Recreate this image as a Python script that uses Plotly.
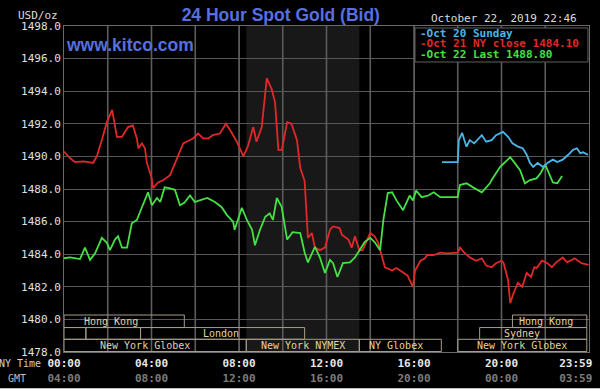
import plotly.graph_objects as go

# ---------------- data ----------------
oct21_hours = [0.0, 0.27, 0.5, 0.9, 1.33, 1.5, 1.73, 1.96, 2.2, 2.33, 2.42, 2.65, 2.93, 3.15, 3.33, 3.4,
               3.56, 3.7, 3.79, 4.0, 4.07, 4.3, 4.55, 4.85, 5.15, 5.45, 5.6, 5.9, 6.13, 6.36, 6.6, 6.8,
               7.13, 7.4, 7.6, 7.9, 8.2, 8.4, 8.65, 8.8, 9.04, 9.27, 9.5, 9.65, 9.8, 9.96, 10.2, 10.4,
               10.65, 10.8, 11.0, 11.1, 11.15, 11.33, 11.47, 11.7, 11.93, 12.16, 12.3, 12.6, 12.7, 13.0,
               13.15, 13.3, 13.5, 13.65, 14.0, 14.2, 14.35, 14.67, 15.0, 15.2, 15.5, 15.7, 15.95, 16.05,
               16.3, 16.5, 16.6, 16.9, 17.2, 17.5, 18.0, 18.1, 18.3, 18.55, 18.85, 19.1, 19.3, 19.55,
               19.75, 20.0, 20.1, 20.3, 20.4, 20.55, 20.75, 20.95, 21.15, 21.35, 21.5, 21.6, 21.85, 22.1,
               22.3, 22.5, 22.8, 23.0, 23.35, 23.65, 23.98]
oct21_values = [1490.3, 1489.9, 1489.65, 1489.7, 1489.6, 1490.0, 1491.0, 1492.1, 1492.85, 1491.8, 1491.2,
                1491.2, 1491.8, 1491.9, 1491.1, 1490.5, 1490.8, 1490.5, 1489.6, 1488.7, 1488.05, 1488.4,
                1488.55, 1488.85, 1489.8, 1490.8, 1490.9, 1491.1, 1491.4, 1491.1, 1491.1, 1491.3, 1491.4,
                1492.0, 1491.6, 1490.9, 1490.0, 1490.6, 1491.8, 1490.9, 1491.8, 1494.8, 1494.1, 1493.3,
                1490.4, 1490.4, 1492.1, 1492.0, 1491.0, 1489.3, 1488.5, 1486.5, 1485.0, 1485.3, 1484.4,
                1484.25, 1484.4, 1485.5, 1485.7, 1485.6, 1485.2, 1484.9, 1484.4, 1485.1, 1484.25, 1484.25,
                1485.3, 1485.1, 1484.75, 1483.2, 1483.0, 1483.15, 1482.85, 1482.7, 1482.0, 1483.0, 1483.6,
                1483.75, 1483.95, 1483.95, 1484.1, 1484.05, 1484.1, 1484.4, 1484.1, 1483.8, 1483.6, 1483.75,
                1483.3, 1483.2, 1483.45, 1483.6, 1483.45, 1482.4, 1481.0, 1481.6, 1482.25, 1482.0, 1482.85,
                1482.6, 1483.2, 1483.15, 1483.6, 1483.45, 1483.2, 1483.5, 1483.8, 1483.5, 1483.75, 1483.45,
                1483.35]

oct22_hours = [0.0, 0.27, 0.73, 0.96, 1.19, 1.42, 1.73, 1.96, 2.1, 2.33, 2.47, 2.65, 2.88, 3.1, 3.33, 3.56,
               3.84, 4.02, 4.25, 4.4, 4.6, 4.8, 5.07, 5.3, 5.5, 5.76, 5.98, 6.2, 6.55, 6.9, 7.2, 7.45,
               7.73, 7.8, 8.13, 8.36, 8.6, 8.73, 8.96, 9.2, 9.4, 9.55, 9.73, 9.95, 10.2, 10.45, 10.8,
               11.0, 11.15, 11.47, 11.7, 11.93, 12.16, 12.3, 12.5, 12.75, 13.07, 13.3, 13.5, 13.75, 14.0,
               14.2, 14.45, 14.6, 14.8, 15.0, 15.2, 15.5, 15.8, 15.95, 16.1, 16.35, 16.65, 16.9, 17.2,
               18.0, 18.1, 18.4, 18.7, 19.1, 19.47, 19.55, 19.93, 20.4, 20.6, 20.85, 21.07, 21.3, 21.6,
               21.8, 22.0, 22.2, 22.35, 22.55, 22.77]
oct22_values = [1483.75, 1483.8, 1483.7, 1484.4, 1483.65, 1484.05, 1485.0, 1484.7, 1484.25, 1484.9, 1485.1,
                1484.4, 1484.4, 1485.9, 1486.1, 1486.85, 1487.8, 1487.0, 1487.45, 1487.2, 1488.1, 1488.05,
                1487.95, 1487.0, 1487.15, 1487.6, 1487.2, 1487.3, 1487.45, 1487.2, 1486.9, 1486.4, 1486.0,
                1485.5, 1486.85, 1486.1, 1485.5, 1484.55, 1485.5, 1486.3, 1486.5, 1486.1, 1487.45, 1486.9,
                1484.9, 1485.35, 1485.3, 1484.1, 1483.5, 1484.45, 1483.8, 1482.85, 1483.65, 1483.45, 1482.6,
                1483.45, 1483.5, 1483.8, 1484.25, 1484.75, 1485.0, 1484.75, 1484.25, 1486.1, 1487.75, 1487.8,
                1487.3, 1486.7, 1487.6, 1487.3, 1487.9, 1487.5, 1487.6, 1487.8, 1487.5, 1487.5, 1488.25,
                1488.35, 1488.1, 1487.8, 1488.35, 1488.55, 1489.35, 1489.95, 1489.6, 1489.15, 1488.35,
                1488.55, 1488.65, 1489.0, 1489.5, 1488.85, 1488.4, 1488.35, 1488.8]

oct20_hours = [17.28, 18.0, 18.05, 18.2, 18.3, 18.4, 18.55, 18.75, 19.1, 19.3, 19.55, 19.75, 20.07, 20.3,
               20.5, 20.75, 20.97, 21.15, 21.3, 21.45, 21.65, 21.9, 22.1, 22.35, 22.55, 22.8, 23.05, 23.27,
               23.45, 23.6, 23.73, 23.95]
oct20_values = [1489.65, 1489.65, 1491.0, 1491.45, 1491.0, 1490.6, 1491.0, 1490.8, 1491.3, 1490.9, 1491.0,
                1491.3, 1491.5, 1491.2, 1490.8, 1490.6, 1490.5, 1490.1, 1489.6, 1489.35, 1489.6, 1489.35,
                1489.6, 1489.8, 1489.65, 1489.8, 1490.1, 1490.4, 1490.5, 1490.2, 1490.25, 1490.1]

legend_labels = ["Oct 20 Sunday", "Oct 21 NY close 1484.10", "Oct 22 Last 1488.80"]

y_ticks = [1478, 1480, 1482, 1484, 1486, 1488, 1490, 1492, 1494, 1496, 1498]
x_tick_hours = [0, 2, 4, 6, 8, 10, 12, 14, 16, 18, 20, 22, 24]
ny_tick_labels = ["00:00", "", "04:00", "", "08:00", "", "12:00", "", "16:00", "", "20:00", "", "23:59"]
gmt_tick_labels = ["04:00", "", "08:00", "", "12:00", "", "16:00", "", "20:00", "", "00:00", "", "03:59"]

comex_open, comex_close = 8.333, 13.5

session_names = ["Hong Kong", "", "", "London", "New York Globex", "New York NYMEX", "NY Globex",
                 "New York Globex", "Sydney", "Hong Kong"]
session_rows = [0, 1, 1, 1, 2, 2, 2, 2, 1, 0]
session_start = [0.0, 0.0, 1.0, 3.5, 0.0, 8.333, 13.5, 18.0, 19.0, 20.5]
session_end = [5.5, 1.0, 3.5, 11.0, 8.333, 13.5, 17.25, 23.9, 23.9, 23.9]
session_label_at = [2.15, None, None, 7.18, 3.68, 10.93, 15.18, 20.94, 20.94, 22.03]

# ---------------- style ----------------
MONO = "DejaVu Sans Mono"
RED, GREEN, BLUE = "#e02828", "#44e044", "#4ab6e8"
GRID = "#575757"
TAN = "#e2d3a4"
BOXLINE = "#a59d86"
NBSP = "&nbsp;"

fig = go.Figure()

# vertical grid lines at every x tick (drawn as a line trace through the axes)
y_lo, y_hi = y_ticks[0], y_ticks[-1]
grid_x, grid_y = [], []
for h in x_tick_hours[1:-1]:
    grid_x += [h, h, None]
    grid_y += [y_lo, y_hi, None]
fig.add_trace(go.Scatter(x=grid_x, y=grid_y, mode="lines", line=dict(color="#5c5c5c", width=1.6),
                         connectgaps=False, hoverinfo="skip", showlegend=False))

fig.add_trace(go.Scatter(x=oct21_hours, y=oct21_values, mode="lines",
                         line=dict(color=RED, width=1.8), name=legend_labels[1]))
fig.add_trace(go.Scatter(x=oct22_hours, y=oct22_values, mode="lines",
                         line=dict(color=GREEN, width=1.8), name=legend_labels[2]))
fig.add_trace(go.Scatter(x=oct20_hours, y=oct20_values, mode="lines",
                         line=dict(color=BLUE, width=1.8), name=legend_labels[0]))

shapes = []
# COMEX shaded band
shapes.append(dict(type="rect", xref="x", yref="paper", x0=comex_open, x1=comex_close, y0=0, y1=1,
                   fillcolor="#181818", line=dict(width=0), layer="below"))
# market session rows (data-value bands)
row_edges = [(1480.27, 1479.5), (1479.5, 1478.78), (1478.78, 1478.03)]
annotations = []
for name, row, s, e, lab in zip(session_names, session_rows, session_start, session_end, session_label_at):
    top, bot = row_edges[row]
    shapes.append(dict(type="rect", xref="x", yref="y", x0=s, x1=e, y0=bot, y1=top,
                       line=dict(color=BOXLINE, width=1), fillcolor="rgba(0,0,0,0)", layer="above"))
    if name:
        annotations.append(dict(x=lab, y=(top + bot) / 2, xref="x", yref="y", text=name,
                                showarrow=False, font=dict(family=MONO, size=10, color=TAN)))

# legend box
shapes.append(dict(type="rect", xref="paper", yref="paper", x0=0.6686, x1=0.998, y0=0.8896, y1=0.9939,
                   fillcolor="#000000", line=dict(color="#606060", width=1), layer="above"))
for i, (lab, col) in enumerate(zip(legend_labels, [BLUE, RED, GREEN])):
    annotations.append(dict(x=0.6745, y=0.9785 - i * 0.0337, xref="paper", yref="paper",
                            xanchor="left", yanchor="middle", showarrow=False,
                            text="<b>-" + lab + "</b>",
                            font=dict(family=MONO, size=11, color=col)))

# bottom white strip of the screenshot
shapes.append(dict(type="rect", xref="paper", yref="paper", x0=-0.2, x1=1.1, y0=-0.12, y1=-0.111,
                   fillcolor="#ffffff", line=dict(width=0), layer="above"))

# texts
annotations += [
    dict(x=0.0, y=0.9417, xref="paper", yref="paper", xanchor="left", yanchor="middle",
         text="<b>www.kitco.com</b>", showarrow=False,
         font=dict(family="Liberation Sans", size=17.5, color="#5670e2")),
    dict(x=-0.0076, y=1.0337, xref="paper", yref="paper", xanchor="right", yanchor="middle",
         text="USD/oz", showarrow=False, font=dict(family=MONO, size=11, color="#dcdcdc")),
    dict(x=0.981, y=1.0215, xref="paper", yref="paper", xanchor="right", yanchor="middle",
         text="October 22, 2019 22:46", showarrow=False, font=dict(family=MONO, size=11, color="#dcdcdc")),
    dict(x=-0.04, y=-0.034, xref="paper", yref="paper", xanchor="right", yanchor="middle",
         text="NY Time", showarrow=False, font=dict(family=MONO, size=10, color="#d0d0d0")),
    dict(x=-0.068, y=-0.080, xref="paper", yref="paper", xanchor="right", yanchor="middle",
         text="GMT", showarrow=False, font=dict(family=MONO, size=10, color="#bdbdbd")),
]


def tick_text(a, b, last):
    if not a:
        return ""
    pad = NBSP * 4 if last else ""
    return "<b>%s%s</b><br><span style='color:#7c7c7c'><b>%s%s</b></span>" % (a, pad, b, pad)


x_ticktext = [tick_text(a, b, i == len(ny_tick_labels) - 1)
              for i, (a, b) in enumerate(zip(ny_tick_labels, gmt_tick_labels))]

fig.update_layout(
    template="none",
    width=600, height=391,
    margin=dict(l=64, r=11, t=26, b=39, autoexpand=False),
    paper_bgcolor="#000000", plot_bgcolor="#000000",
    showlegend=False,
    title=dict(text="<b>24 Hour Spot Gold (Bid)</b>", x=0.468, xanchor="center", y=0.962, yanchor="middle",
               font=dict(family="Liberation Sans", size=17.5, color="#5670e2")),
    xaxis=dict(range=[0, 24], tickmode="array", tickvals=x_tick_hours, ticktext=x_ticktext,
               automargin=False, showgrid=True, gridcolor=GRID, gridwidth=1,
               zeroline=False, showline=True, linecolor="#6a6a6a", mirror=True, ticks="",
               ticklabelstandoff=1, ticklabeloverflow="allow",
               tickfont=dict(family=MONO, size=11, color="#e6e6e6")),
    yaxis=dict(range=[y_lo, y_hi], tickmode="array", tickvals=y_ticks, automargin=False,
               ticktext=["%.1f" % v for v in y_ticks], showgrid=True, gridcolor=GRID, gridwidth=1,
               zeroline=False, showline=True, linecolor="#6a6a6a", mirror=True, ticks="",
               tickfont=dict(family=MONO, size=11, color="#e0e0e0")),
    shapes=shapes, annotations=annotations,
)

fig.write_html("out.html", config={"displayModeBar": False},
               post_script="document.body.style.margin='0';document.body.style.overflow='hidden';")
